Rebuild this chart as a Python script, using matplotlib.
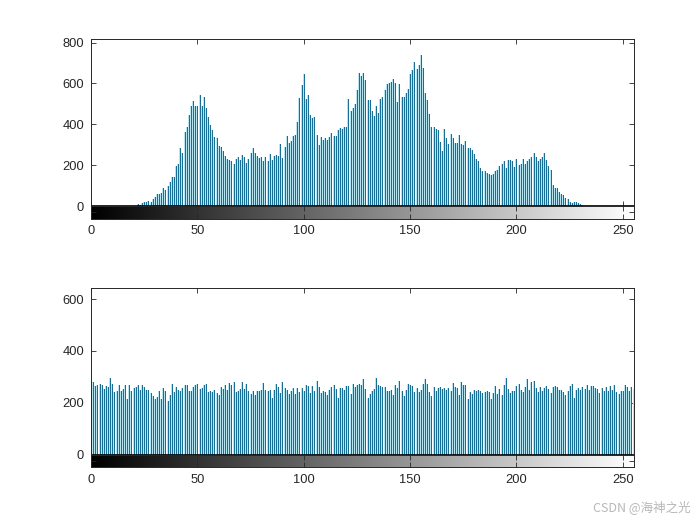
import matplotlib
matplotlib.use("Agg")
import matplotlib.pyplot as plt
import numpy as np

# ── data: pixel counts per gray level (0..255) ──────────────────────────────
levels = np.arange(256)

counts_orig = (
    [0] * 22
    + [8, 5, 15, 20, 18, 24, 22, 33, 46, 57, 60, 64, 87, 79, 98, 120, 140, 140,
       197, 205, 284, 262, 361, 385, 446, 492, 513, 489, 492, 546, 492, 536, 479,
       438, 398, 372, 340, 333, 294, 287, 267, 246, 230, 225, 218, 208, 230, 241,
       225, 251, 241, 213, 228, 262, 282, 262, 246, 233, 241, 218, 238, 221, 254,
       225, 246, 251, 246, 303, 235, 287, 343, 307, 320, 344, 349, 412, 528, 594,
       645, 525, 544, 448, 431, 438, 349, 300, 340, 323, 333, 323, 340]
    + [357, 344, 344, 374, 382, 377, 385, 385, 525, 467, 480, 500, 566, 651, 635,
       651, 615, 520, 517, 467, 443, 492, 454, 525, 533, 569, 599, 602, 607, 623,
       602, 508, 599, 533, 533, 553, 574, 648, 667, 705, 672, 689, 738, 677, 554,
       517, 451, 385, 389, 377, 372, 315, 267, 376, 333, 303, 353, 333, 307, 307,
       348, 303, 298, 320, 284, 284, 276, 254, 230, 221, 185, 172, 172, 164, 156,
       153, 159, 169, 175, 197, 208, 221, 185, 225, 226, 218, 192, 230, 202, 208,
       230, 208, 221, 230, 241, 262, 241, 218, 230, 238, 260, 225, 197, 175, 103,
       90, 87, 70, 57, 52, 41, 33, 21, 16, 21, 21, 13, 8, 5, 2]
    + [0] * 23
)

counts_eq = [
    247, 280, 264, 269, 272, 270, 254, 264, 260, 295, 273, 241, 246, 269, 247, 254,
    269, 213, 269, 247, 256, 260, 270, 251, 269, 260, 251, 250, 238, 228, 215, 222,
    244, 215, 256, 244, 209, 231, 273, 241, 260, 251, 244, 258, 269, 269, 244, 244,
    260, 269, 273, 254, 256, 269, 273, 241, 245, 241, 251, 238, 231, 260, 254, 269,
    251, 277, 269, 282, 241, 245, 254, 282, 254, 273, 247, 235, 244, 231, 244, 247,
    251, 277, 251, 247, 251, 218, 251, 273, 260, 238, 280, 256, 251, 235, 247, 256,
    235, 256, 241, 256, 244, 269, 264, 238, 264, 244, 285, 260, 238, 244, 241, 231,
    251, 260, 267, 254, 218, 256, 256, 251, 264, 264, 235, 273, 260, 269, 273, 267,
    290, 254, 218, 235, 247, 254, 295, 267, 264, 260, 260, 244, 247, 251, 231, 269,
    256, 283, 247, 228, 251, 273, 269, 264, 241, 256, 241, 251, 273, 292, 273, 241,
    228, 260, 244, 256, 260, 254, 256, 251, 256, 247, 277, 260, 256, 231, 280, 269,
    267, 215, 241, 235, 251, 244, 251, 247, 238, 241, 244, 241, 213, 238, 264, 235,
    254, 231, 269, 295, 254, 238, 244, 247, 264, 273, 251, 241, 260, 290, 251, 280,
    286, 256, 241, 260, 247, 256, 264, 254, 238, 260, 264, 260, 251, 251, 241, 231,
    247, 264, 273, 218, 251, 256, 251, 260, 254, 269, 251, 264, 264, 256, 254, 238,
    256, 247, 260, 247, 264, 251, 269, 241, 235, 247, 244, 269, 260, 247, 260, 254,
]

ylims = [816, 642]
yticks_list = [[0, 200, 400, 600, 800], [0, 200, 400, 600]]
xticks = [0, 50, 100, 150, 200, 250]

# ── style ───────────────────────────────────────────────────────────────────
STEM = "#176f96"
HALO = "#b4e4f0"
AXC = "#262626"
plt.rcParams["font.family"] = ["Liberation Sans", "DejaVu Sans"]
plt.rcParams["font.size"] = 9.3

fig = plt.figure(figsize=(7, 5.25), dpi=100)
fig.patch.set_facecolor("white")

# positions: [left, bottom, width, height] for histogram + gray strip
panels = [
    (0.13, 0.5838, 0.775, 0.3412),
    (0.13, 0.11, 0.775, 0.3412),
]
strip_h = 0.0238
gradient = np.linspace(0, 1, 256).reshape(1, -1)

for (l, b, w, h), counts, ytop, yt in zip(panels, [counts_orig, counts_eq],
                                        ylims, yticks_list):
    ax = fig.add_axes([l, b + strip_h, w, h - strip_h])
    # soft light halo under each stem, then the crisp stem itself
    ax.vlines(levels, 0, counts, color=HALO, lw=1.4)
    ax.vlines(levels, 0, counts, color=STEM, lw=0.45, antialiased=False)
    ax.axhline(0, color="black", lw=1.2)
    ax.set_xlim(0, 255)
    ax.set_ylim(0, ytop)
    ax.set_yticks(yt)
    ax.set_xticks(xticks)
    ax.tick_params(direction="in", length=3.6, width=0.6, colors=AXC,
                   top=True, right=True, labelbottom=False, pad=5)
    for s in ax.spines.values():
        s.set_color(AXC)
        s.set_linewidth(0.7)

    # gray-level strip below histogram
    cax = fig.add_axes([l, b, w, strip_h])
    cax.imshow(gradient, cmap="gray", aspect="auto",
               extent=[0, 255, 0, 1], interpolation="bilinear")
    cax.set_xlim(0, 255)
    cax.set_ylim(0, 1)
    cax.set_xticks(xticks)
    cax.set_yticks([0.5])
    cax.set_yticklabels([])
    cax.tick_params(direction="in", length=3.6, width=0.6, colors=AXC,
                    top=True, right=True, pad=5)
    for s in cax.spines.values():
        s.set_color(AXC)
        s.set_linewidth(0.7)

fig.text(0.987, 0.02, "CSDN @海神之光", ha="right", va="bottom",
         fontsize=9, color="#b8b8b8",
         family=["Noto Sans CJK SC", "DejaVu Sans"])

fig.savefig("out.png", dpi=100, facecolor="white")
